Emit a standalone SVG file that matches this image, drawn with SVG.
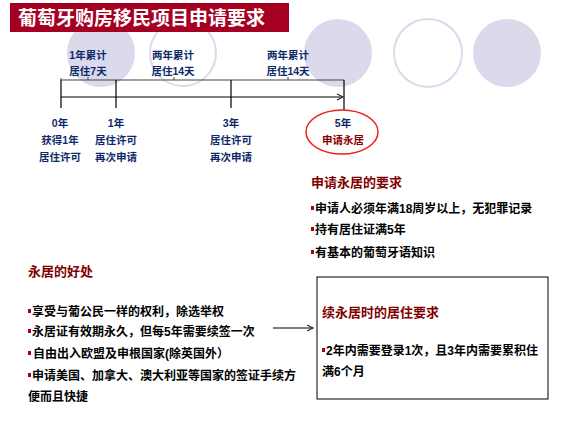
<svg xmlns="http://www.w3.org/2000/svg" width="568" height="426" viewBox="0 0 568 426">
<defs>
<style>
.t{font-family:"Liberation Sans","Noto Sans CJK SC",sans-serif;font-weight:bold}
.tl{font-size:10.5px;fill:#0F2A68;text-anchor:middle}
.h{font-size:13px;fill:#800000}
.b{font-size:12px;fill:#000}
.bul{fill:#A50021}
.fc{fill:#DADAEC}
.oc{fill:#fff;stroke:#DADAEC;stroke-width:2}
.ln{stroke:#000;stroke-width:1.2;fill:none}
</style>
<marker id="ah" markerWidth="8" markerHeight="8" refX="7" refY="4" orient="auto" markerUnits="userSpaceOnUse">
<path d="M1,1 L7,4 L1,7" fill="none" stroke="#333" stroke-width="1.2"/>
</marker>
</defs>
<rect width="568" height="426" fill="#fff"/>
<g id="circles">
<circle class="fc" cx="101" cy="53" r="34"/>
<circle class="oc" cx="183" cy="53" r="33"/>
<circle class="fc" cx="338" cy="53" r="34"/>
<circle class="oc" cx="428" cy="53" r="34"/>
<circle class="fc" cx="507" cy="53" r="34"/>
</g>
<g id="title">
<rect x="10" y="3" width="279" height="29" fill="#A50021"/>
<text class="t" x="18" y="25" font-size="19" fill="#fff">葡萄牙购房移民项目申请要求</text>
</g>
<g id="connectors">
<path d="M61,80 H344" stroke="#444" stroke-width="1.2" fill="none"/>
<path d="M88,80 V77 M174,80 V77 M288,80 V77 M61,80 V78" stroke="#444" stroke-width="1"/>
<path class="ln" d="M61,80 V108 M116,80 V108 M231,80 V108 M344,80 V110"/>
<path class="ln" d="M61,97 H343" marker-end="url(#ah)"/>
<path class="ln" d="M273,328 H313" marker-end="url(#ah)"/>
</g>
<g id="labels-top">
<text class="t tl" x="88" y="59">1年累计</text>
<text class="t tl" x="88" y="75">居住7天</text>
<text class="t tl" x="173" y="59">两年累计</text>
<text class="t tl" x="173" y="75">居住14天</text>
<text class="t tl" x="288" y="59">两年累计</text>
<text class="t tl" x="288" y="75">居住14天</text>
</g>
<g id="node-0">
<text class="t tl" x="60" y="127">0年</text>
<text class="t tl" x="60" y="144">获得1年</text>
<text class="t tl" x="60" y="161">居住许可</text>
</g>
<g id="node-1">
<text class="t tl" x="116" y="127">1年</text>
<text class="t tl" x="116" y="144">居住许可</text>
<text class="t tl" x="116" y="161">再次申请</text>
</g>
<g id="node-3">
<text class="t tl" x="231" y="127">3年</text>
<text class="t tl" x="231" y="144">居住许可</text>
<text class="t tl" x="231" y="161">再次申请</text>
</g>
<g id="node-5">
<ellipse cx="342" cy="132" rx="36" ry="22" fill="none" stroke="#F02020" stroke-width="1.5"/>
<text class="t tl" x="343" y="127">5年</text>
<text class="t tl" x="343" y="144" style="fill:#8B0000">申请永居</text>
</g>
<g id="requirements">
<text class="t h" x="311" y="187">申请永居的要求</text>
<rect class="bul" x="311" y="206" width="3" height="4"/>
<text class="t b" x="315" y="213">申请人必须年满18周岁以上，无犯罪记录</text>
<rect class="bul" x="311" y="227" width="3" height="4"/>
<text class="t b" x="315" y="234">持有居住证满5年</text>
<rect class="bul" x="311" y="250" width="3" height="4"/>
<text class="t b" x="315" y="257">有基本的葡萄牙语知识</text>
</g>
<g id="benefits">
<text class="t h" x="28" y="276">永居的好处</text>
<rect class="bul" x="28" y="309" width="3" height="4"/>
<text class="t b" x="32" y="316">享受与葡公民一样的权利，除选举权</text>
<rect class="bul" x="28" y="329" width="3" height="4"/>
<text class="t b" x="32" y="336">永居证有效期永久，但每5年需要续签一次</text>
<rect class="bul" x="28" y="351" width="3" height="4"/>
<text class="t b" x="33" y="358">自由出入欧盟及申根国家(除英国外）</text>
<rect class="bul" x="28" y="373" width="3" height="4"/>
<text class="t b" x="32" y="380">申请美国、加拿大、澳大利亚等国家的签证手续方</text>
<text class="t b" x="28" y="401">便而且快捷</text>
</g>
<g id="renewal">
<rect x="317" y="277" width="231" height="122" fill="#fff" stroke="#000" stroke-width="1"/>
<text class="t h" x="322" y="317">续永居时的居住要求</text>
<rect class="bul" x="322" y="348" width="3" height="4"/>
<text class="t b" x="326" y="355">2年内需要登录1次，且3年内需要累积住</text>
<text class="t b" x="322" y="376">满6个月</text>
</g>
</svg>
